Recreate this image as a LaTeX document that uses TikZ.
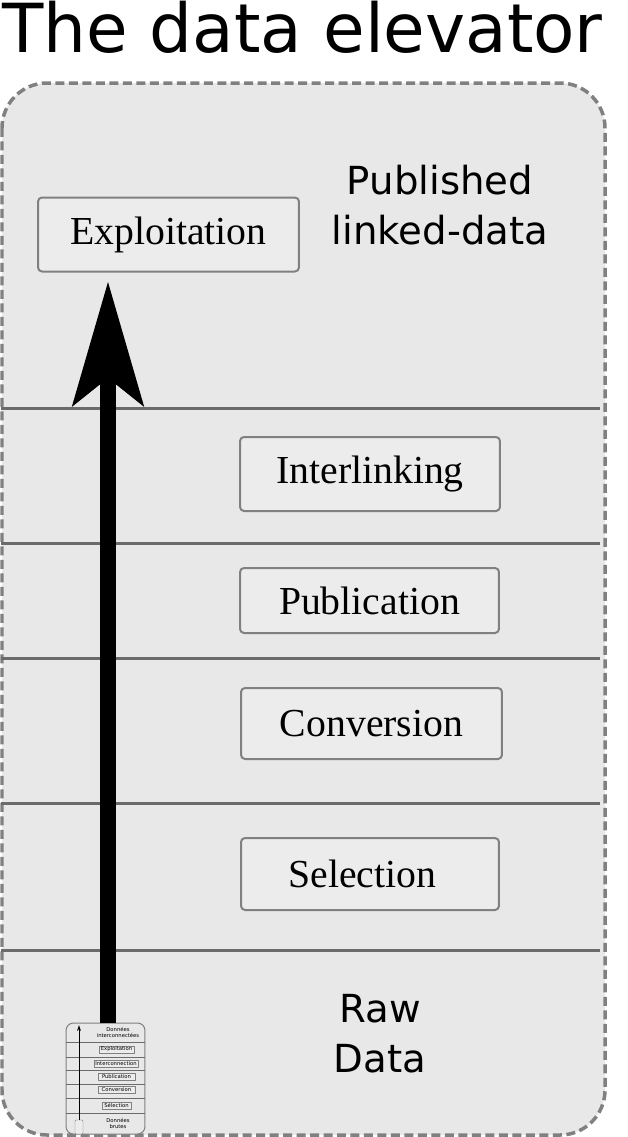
\documentclass[tikz,border=0pt]{standalone}
\usepackage{fontspec}
\setmainfont{Liberation Serif}
\newfontfamily\labelfont{DejaVu Sans}
\usetikzlibrary{arrows.meta}
\definecolor{panelgray}{gray}{0.91}
\definecolor{boxgray}{gray}{0.925}
\definecolor{edgegray}{gray}{0.5}
\definecolor{rulegray}{gray}{0.42}
\begin{document}
\begin{tikzpicture}[x=0.02cm,y=-0.02cm, line join=round,
    stage/.style={draw=edgegray, line width=0.04cm, fill=boxgray, rounded corners=0.08cm,
      inner sep=0pt, font=\fontsize{22.6}{26}\selectfont},
    tinystage/.style={draw=edgegray, line width=0.008cm, fill=boxgray, inner sep=0pt,
      minimum height=0.14cm, font=\labelfont\fontsize{3}{3.4}\selectfont},
    layerline/.style={draw=rulegray, line width=0.06cm},
    tinyline/.style={draw=rulegray, line width=0.01cm},
    levellabel/.style={align=center, inner sep=0pt, font=\labelfont\fontsize{22}{28.4}\selectfont},
    tinylabel/.style={align=center, inner sep=0pt, font=\labelfont\fontsize{3}{3.4}\selectfont}]
  \useasboundingbox (0,0) rectangle (628,1137);
  \node[anchor=base west, inner sep=0pt, font=\labelfont\fontsize{38.5}{44}\selectfont] (title) at (2,52) {The data elevator};
  % the elevator shaft
  \draw[draw=edgegray, fill=panelgray, line width=0.07cm, dash pattern=on 0.18cm off 0.09cm,
    rounded corners=0.9cm] (2,83) rectangle (605,1135);
  \foreach \y in {408,543,658,803,950}{
    \draw[layerline] (1,\y) -- (600,\y);}
  % stages
  \node[stage, minimum width=5.22cm, minimum height=1.48cm] (exploit) at (168.5,234.5) {Exploitation};
  \node[stage, minimum width=5.20cm, minimum height=1.48cm] (interlink) at (370,474) {Interlinking};
  \node[stage, minimum width=5.18cm, minimum height=1.30cm] (publish) at (369.5,600.5) {Publication};
  \node[stage, minimum width=5.22cm, minimum height=1.42cm] (convert) at (371.5,723.5) {Conversion};
  \node[stage, minimum width=5.16cm, minimum height=1.44cm] (select) at (370,874) {\kern-0.3cm Selection};
  \node[levellabel] (top) at (440,205) {Published\\linked-data};
  \node[levellabel] (bottom) at (380,1033.5) {Raw\\Data};
  % small copy of the picture
  \node[draw=edgegray, line width=0.02cm, rounded corners=0.15cm, fill=panelgray,
    minimum width=1.58cm, minimum height=2.22cm, inner sep=0pt] (thumb) at (105.5,1078.5) {};
  \foreach \y in {1042,1057,1070,1084,1098,1113}{
    \draw[tinyline] (66,\y) -- (145,\y);}
  \node[tinystage, minimum width=0.70cm] (tExploit) at (116.5,1049.5) {Exploitation};
  \node[tinystage, minimum width=0.88cm] (tInter) at (116,1063.5) {Interconnection};
  \node[tinystage, minimum width=0.74cm] (tPublish) at (116.5,1076.5) {Publication};
  \node[tinystage, minimum width=0.74cm] (tConvert) at (116.5,1090) {Conversion};
  \node[tinystage, minimum width=0.58cm] (tSelect) at (116.5,1105.5) {Sélection};
  \node[tinylabel] (tTop) at (118,1032) {Données\\interconnectées};
  \node[tinylabel] (tBottom) at (118,1123) {Données\\brutes};
  \node[draw=edgegray, line width=0.008cm, fill=boxgray, rounded corners=0.02cm,
    minimum width=0.16cm, minimum height=0.28cm, inner sep=0pt] (innerthumb) at (79,1127) {};
  \coordinate (innertop) at (79,1025);
  \draw[line width=0.02cm, -{Stealth[length=0.12cm,width=0.08cm,line width=0pt]}] (innerthumb.north) -- (innertop);
  % the big arrow
  \coordinate (arrowtip) at (108,282);
  \draw[line width=0.32cm, -{Stealth[length=2.5cm,width=1.45cm,inset=0.58cm,line width=0pt]}]
    (thumb.north -| arrowtip) -- (arrowtip);
\end{tikzpicture}
\end{document}
